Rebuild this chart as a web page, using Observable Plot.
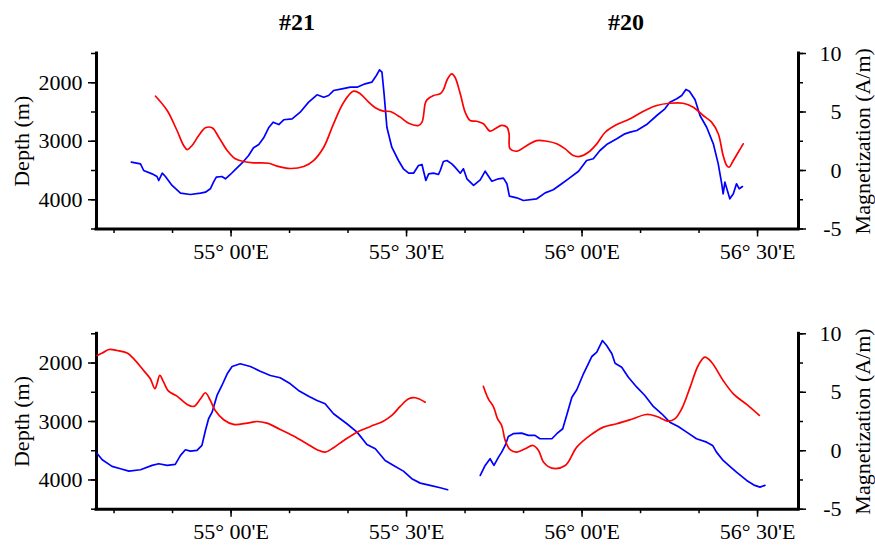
<!DOCTYPE html>
<html>
<head>
<meta charset="utf-8">
<script src="https://cdn.jsdelivr.net/npm/d3@7"></script>
<script src="https://cdn.jsdelivr.net/npm/@observablehq/plot@0.6"></script>
<style>
  html, body { margin: 0; padding: 0; background: #fff; }
  #chart { position: relative; width: 875px; height: 546px; font-family: "Liberation Serif", "Times New Roman", serif; }
  .panel { position: absolute; left: 0; width: 875px; }
  .panel svg { position: absolute; left: 0; top: 0; }
  .title { position: absolute; width: 100px; text-align: center; font-weight: bold; font-size: 24px; line-height: 24px; color: #000; }
</style>
</head>
<body>
<div id="chart"></div>
<script>
// ---- Data (longitude in decimal degrees E) ----
const xDomain = [54 + 37 / 60, 56 + 37 / 60];
const xTicksMinor = [54 + 40/60, 54 + 50/60, 55, 55 + 10/60, 55 + 20/60, 55.5, 55 + 40/60, 55 + 50/60, 56, 56 + 10/60, 56 + 20/60, 56.5];
const xTicksMajor = [55, 55.5, 56, 56.5];
const xTickLabels = ["55° 00'E", "55° 30'E", "56° 00'E", "56° 30'E"];
const depthTicksMinor = [1500, 2000, 2500, 3000, 3500, 4000, 4500];
const depthTicksMajor = [2000, 3000, 4000];
const magTicksMinor = [-5, -2.5, 0, 2.5, 5, 7.5, 10];
const magTicksMajor = [-5, 0, 5, 10];
const titles = ["#21", "#20"];

// Top panel: bathymetry depth (m)
const topDepth = [[54.716,3358],[54.742,3386],[54.751,3500],[54.775,3557],[54.789,3603],[54.794,3671],[54.804,3546],[54.813,3603],[54.832,3756],[54.856,3888],[54.884,3910],[54.913,3888],[54.927,3871],[54.941,3813],[54.950,3700],[54.958,3614],[54.974,3603],[54.984,3642],[54.998,3568],[55.017,3454],[55.031,3375],[55.050,3244],[55.064,3112],[55.079,3056],[55.093,2941],[55.107,2770],[55.120,2674],[55.136,2714],[55.150,2633],[55.174,2616],[55.197,2503],[55.221,2332],[55.245,2206],[55.264,2247],[55.278,2218],[55.292,2133],[55.316,2104],[55.340,2076],[55.359,2076],[55.382,2018],[55.401,1990],[55.414,1876],[55.423,1779],[55.430,1820],[55.436,2189],[55.444,2760],[55.458,3102],[55.477,3329],[55.491,3471],[55.506,3546],[55.520,3546],[55.534,3414],[55.544,3397],[55.548,3500],[55.555,3671],[55.563,3557],[55.577,3546],[55.591,3568],[55.596,3500],[55.605,3346],[55.615,3329],[55.629,3386],[55.638,3443],[55.653,3546],[55.662,3471],[55.672,3642],[55.691,3756],[55.710,3659],[55.724,3512],[55.743,3683],[55.762,3642],[55.776,3631],[55.786,3727],[55.793,3939],[55.814,3967],[55.833,4013],[55.871,3984],[55.895,3882],[55.918,3830],[55.942,3727],[55.961,3642],[55.990,3512],[56.013,3329],[56.032,3300],[56.051,3158],[56.070,3056],[56.099,2958],[56.122,2873],[56.137,2845],[56.156,2816],[56.184,2714],[56.213,2560],[56.236,2445],[56.250,2332],[56.270,2274],[56.284,2218],[56.296,2115],[56.306,2144],[56.322,2291],[56.336,2560],[56.355,2760],[56.374,3044],[56.388,3386],[56.398,3727],[56.402,3898],[56.407,3700],[56.414,3842],[56.421,3984],[56.431,3898],[56.440,3727],[56.448,3813],[56.457,3774]];
// Top panel: magnetization (A/m)
const topMag = [[54.785,6.35],[54.818,5.13],[54.846,3.42],[54.865,2.14],[54.875,1.79],[54.889,2.14],[54.908,2.99],[54.927,3.65],[54.946,3.65],[54.965,2.85],[54.989,1.71],[55.012,1.00],[55.036,0.77],[55.064,0.66],[55.107,0.62],[55.131,0.37],[55.169,0.17],[55.207,0.34],[55.235,0.85],[55.264,1.99],[55.292,3.99],[55.321,5.84],[55.349,6.78],[55.368,6.56],[55.392,5.84],[55.411,5.36],[55.434,5.07],[55.453,5.04],[55.482,4.56],[55.506,4.04],[55.534,3.85],[55.544,4.13],[55.553,5.70],[55.558,6.04],[55.577,6.41],[55.596,6.56],[55.605,6.90],[55.617,7.84],[55.629,8.26],[55.638,7.97],[55.653,6.56],[55.667,4.98],[55.681,4.27],[55.700,4.21],[55.719,3.99],[55.738,3.36],[55.752,3.56],[55.771,3.85],[55.786,3.70],[55.792,3.14],[55.795,1.85],[55.814,1.65],[55.843,2.14],[55.871,2.56],[55.900,2.50],[55.928,2.28],[55.952,1.85],[55.975,1.28],[55.994,1.20],[56.018,1.56],[56.042,2.28],[56.066,3.27],[56.099,3.93],[56.137,4.42],[56.175,5.07],[56.213,5.56],[56.250,5.75],[56.288,5.75],[56.317,5.41],[56.345,4.70],[56.369,4.13],[56.388,3.14],[56.402,1.28],[56.412,0.43],[56.419,0.28],[56.431,0.85],[56.445,1.56],[56.459,2.28]];

// Bottom panel, western segment
const botDepthA = [[54.619,3551],[54.633,3654],[54.661,3768],[54.685,3808],[54.709,3849],[54.742,3825],[54.775,3751],[54.794,3722],[54.818,3751],[54.841,3734],[54.856,3580],[54.870,3483],[54.884,3507],[54.903,3495],[54.917,3409],[54.927,3153],[54.936,2953],[54.946,2840],[54.960,2555],[54.974,2384],[54.989,2184],[55.003,2059],[55.026,2013],[55.055,2059],[55.083,2139],[55.112,2213],[55.140,2252],[55.169,2355],[55.192,2469],[55.221,2567],[55.245,2640],[55.268,2697],[55.292,2868],[55.330,3039],[55.359,3182],[55.387,3392],[55.411,3466],[55.439,3666],[55.463,3751],[55.491,3849],[55.515,3979],[55.539,4054],[55.567,4093],[55.596,4133],[55.617,4167]];
const botMagA = [[54.619,8.15],[54.633,8.35],[54.652,8.66],[54.676,8.57],[54.704,8.35],[54.723,7.86],[54.751,6.86],[54.770,6.15],[54.783,5.30],[54.789,5.73],[54.797,6.44],[54.808,5.86],[54.822,5.09],[54.846,4.67],[54.875,3.96],[54.894,3.79],[54.913,4.44],[54.927,4.96],[54.941,4.30],[54.955,3.44],[54.979,2.65],[55.007,2.25],[55.046,2.36],[55.074,2.50],[55.102,2.36],[55.140,1.82],[55.178,1.25],[55.216,0.60],[55.245,0.09],[55.268,-0.12],[55.292,0.26],[55.321,0.88],[55.359,1.59],[55.397,2.08],[55.434,2.53],[55.458,3.02],[55.482,3.79],[55.506,4.44],[55.525,4.53],[55.553,4.15]];
// Bottom panel, eastern segment
const botDepthB = [[55.710,3922],[55.724,3751],[55.738,3637],[55.749,3751],[55.762,3609],[55.771,3524],[55.781,3409],[55.790,3256],[55.804,3209],[55.828,3199],[55.847,3238],[55.866,3238],[55.880,3295],[55.914,3295],[55.928,3209],[55.945,3124],[55.956,2897],[55.971,2584],[55.985,2457],[56.004,2184],[56.028,1888],[56.042,1815],[56.058,1615],[56.070,1700],[56.085,1842],[56.094,2003],[56.113,2071],[56.132,2242],[56.156,2413],[56.179,2555],[56.203,2743],[56.227,2868],[56.250,3011],[56.274,3085],[56.298,3182],[56.326,3295],[56.355,3353],[56.372,3409],[56.383,3524],[56.402,3666],[56.421,3768],[56.440,3866],[56.469,4008],[56.492,4093],[56.507,4122],[56.521,4093]];
const botMagB = [[55.719,5.50],[55.733,4.44],[55.748,3.73],[55.759,2.74],[55.771,2.16],[55.781,0.88],[55.795,0.09],[55.814,-0.12],[55.838,0.17],[55.860,0.45],[55.876,0.03],[55.890,-0.97],[55.914,-1.49],[55.952,-1.26],[55.985,0.31],[56.023,1.31],[56.061,2.02],[56.099,2.31],[56.137,2.65],[56.184,3.10],[56.213,2.93],[56.246,2.53],[56.265,2.74],[56.284,3.59],[56.308,5.44],[56.331,7.29],[56.350,8.00],[56.369,7.57],[56.402,6.01],[56.431,4.87],[56.469,3.96],[56.505,3.02]];

// ---- Drawing ----
const W = 875, ML = 96, MR = 77;
const font = "'Liberation Serif', 'Times New Roman', serif";

function panel(top, height, marginTop, marginBottom, depthSets, magSets) {
  const holder = document.createElement("div");
  holder.className = "panel";
  holder.style.top = top + "px";
  holder.style.height = height + "px";
  const common = {
    width: W, height, marginLeft: ML, marginRight: MR, marginTop, marginBottom,
    style: {fontFamily: font, fontSize: "22px", background: "transparent", overflow: "visible", color: "#000"}
  };
  const A = Plot.plot({
    ...common,
    x: {domain: xDomain, label: null},
    y: {domain: [1500, 4500], reverse: true, label: null},
    marks: [
      Plot.axisX({ticks: xTicksMinor, tickSize: 4.5, strokeWidth: 1.5, tickFormat: () => "", label: null}),
      Plot.axisX({ticks: xTicksMajor, tickSize: 8, tickPadding: 6, strokeWidth: 1.5,
        tickFormat: d => xTickLabels[xTicksMajor.indexOf(d)], label: null}),
      Plot.axisY({ticks: depthTicksMinor, tickSize: 5, strokeWidth: 1.5, tickFormat: () => "", label: null}),
      Plot.axisY({ticks: depthTicksMajor, tickSize: 8, tickPadding: 6, strokeWidth: 1.5,
        tickFormat: d => String(d),
        label: "Depth (m)", labelAnchor: "center", labelOffset: 83, labelArrow: "none"}),
      Plot.ruleX([xDomain[0]], {stroke: "#000", strokeWidth: 3, strokeLinecap: "square"}),
      Plot.ruleY([4500], {stroke: "#000", strokeWidth: 3, strokeLinecap: "square"}),
      ...depthSets.map(s => Plot.line(s, {x: d => d[0], y: d => d[1], stroke: "#0000ff", strokeWidth: 1.7}))
    ]
  });
  const B = Plot.plot({
    ...common,
    x: {domain: xDomain, label: null, axis: null},
    y: {domain: [-5, 10], label: null},
    marks: [
      Plot.axisY({anchor: "right", ticks: magTicksMinor, tickSize: 4, strokeWidth: 1.5, tickFormat: () => "", label: null}),
      Plot.axisY({anchor: "right", ticks: magTicksMajor, tickSize: 7, tickPadding: 36, textAnchor: "end", strokeWidth: 1.5,
        tickFormat: d => String(d),
        label: "Magnetization (A/m)", labelAnchor: "center", labelOffset: 71, labelArrow: "none"}),
      Plot.ruleX([xDomain[1]], {stroke: "#000", strokeWidth: 3, strokeLinecap: "square"}),
      ...magSets.map(s => Plot.line(s, {x: d => d[0], y: d => d[1], stroke: "#ff0000", strokeWidth: 1.7, curve: "catmull-rom"}))
    ]
  });
  holder.appendChild(A);
  holder.appendChild(B);
  return holder;
}

const chart = document.getElementById("chart");
chart.appendChild(panel(0, 270, 53, 41.5, [topDepth], [topMag]));
chart.appendChild(panel(270, 276, 63.3, 37.3, [botDepthA, botDepthB], [botMagA, botMagB]));

const titleX = [297, 626];
titles.forEach((t, i) => {
  const d = document.createElement("div");
  d.className = "title";
  d.textContent = t;
  d.style.left = (titleX[i] - 50) + "px";
  d.style.top = "10px";
  chart.appendChild(d);
});
</script>
</body>
</html>
